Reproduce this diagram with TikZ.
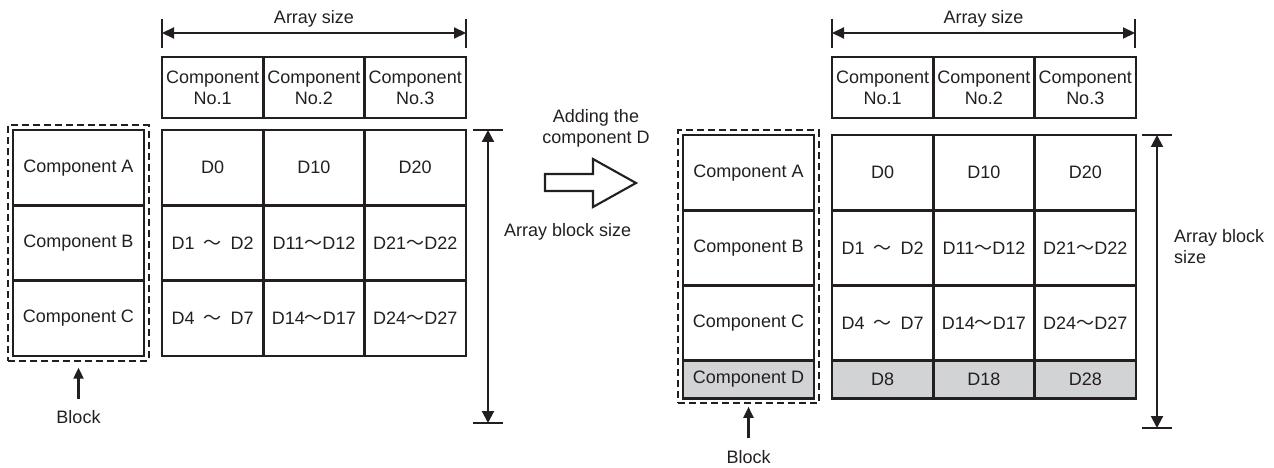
\documentclass[tikz,border=0pt]{standalone}
\usepackage{fontspec}
\setmainfont{Liberation Sans}
\newfontfamily\cjkfont{Noto Sans CJK JP}
\usepackage{tikz}
\usetikzlibrary{arrows.meta, positioning, fit}
\definecolor{inkblack}{HTML}{231F20}
\definecolor{addgray}{HTML}{D1D3D4}
\newcommand{\wavedash}{{\cjkfont ～}}

\begin{document}
\begin{tikzpicture}[x=1pt, y=-1pt,
    cell/.style={rectangle, draw=inkblack, line width=2.4pt, inner sep=0pt,
        minimum width=101.3pt, minimum height=75.3pt, align=center,
        font=\fontsize{18}{21}\selectfont, text=inkblack},
    hdr/.style={cell, minimum height=61pt},
    blk/.style={cell, minimum width=131pt},
    newrow/.style={fill=addgray, minimum height=38pt},
    grp/.style={draw=inkblack, line width=2.2pt, dash pattern=on 7pt off 4pt, inner sep=3.5pt},
    dimline/.style={draw=inkblack, line width=2.1pt},
    arr/.style={{Triangle[length=12pt, width=11pt]}-{Triangle[length=12pt, width=11pt]}, dimline},
    varr/.style={{Triangle[length=12pt, width=12pt]}-{Triangle[length=12pt, width=12pt]}, dimline},
    uparr/.style={-{Triangle[length=11pt, width=10pt]}, dimline},
    lbl/.style={font=\fontsize{18}{21}\selectfont, text=inkblack, inner sep=1pt, align=center}
]
    \useasboundingbox (0,0) rectangle (1274,468);

    % left: header row
    \foreach \n in {1,2,3}
        \node[hdr] (lh\n) at ({111.35+101.3*\n}, 87.5) {Component\\No.\n};
    % left: blocks and data
    \foreach \r/\a/\b/\c [count=\i] in {A/D0/D10/D20,
            B/D1\enspace\wavedash\enspace D2/D11\wavedash D12/D21\wavedash D22,
            C/D4\enspace\wavedash\enspace D7/D14\wavedash D17/D24\wavedash D27} {
        \node[blk] (lb\r) at (78.5, {92.35+75.3*\i}) {Component \r};
        \foreach \v [count=\j] in {\a,\b,\c}
            \node[cell] (l\r\j) at ({111.35+101.3*\j}, {92.35+75.3*\i}) {\v};
    }
    \node[grp, fit=(lbA)(lbC)] (lbox) {};

    % left: dimensions
    \coordinate (lhl) at (162,33);
    \coordinate (lhr) at (466,33);
    \foreach \p in {lhl, lhr}
        \draw[dimline] ([yshift=14pt]\p) -- ([yshift=-15pt]\p);
    \draw[arr] (lhl) -- (lhr) node[lbl, midway, above=4pt] {Array size};
    \coordinate (lvtop) at (488,130);
    \coordinate (lvbot) at (488,423);
    \foreach \p in {lvtop, lvbot}
        \draw[dimline] ([xshift=-15pt]\p) -- ([xshift=15pt]\p);
    \draw[varr] (lvtop) -- (lvbot);
    \node[lbl, anchor=west] (lvlbl) at (503,232) {Array block size};

    % left: block label
    \node[lbl] (lblock) at (78.5,417) {Block};
    \draw[uparr, shorten <=10pt, shorten >=6pt] (lblock.north) -- (lbox.south);

    % adding arrow
    \node[lbl] (addlbl) at (596,128) {Adding the\\component D};
    \draw[inkblack, line width=2.1pt, line join=miter]
        (545,174) -- (593,174) -- (593,159) -- (636,183) -- (593,207) -- (593,191) -- (545,191) -- cycle;

    % right: header row
    \foreach \n in {1,2,3}
        \node[hdr] (rh\n) at ({781.35+101.3*\n}, 87.5) {Component\\No.\n};
    % right: blocks and data
    \foreach \r/\a/\b/\c [count=\i] in {A/D0/D10/D20,
            B/D1\enspace\wavedash\enspace D2/D11\wavedash D12/D21\wavedash D22,
            C/D4\enspace\wavedash\enspace D7/D14\wavedash D17/D24\wavedash D27} {
        \node[blk] (rb\r) at (748.5, {97.35+75.3*\i}) {Component \r};
        \foreach \v [count=\j] in {\a,\b,\c}
            \node[cell] (r\r\j) at ({781.35+101.3*\j}, {97.35+75.3*\i}) {\v};
    }
    % right: added row
    \node[blk, newrow] (rbD) at (748.5, 379.5) {Component D};
    \foreach \v [count=\j] in {D8,D18,D28}
        \node[cell, newrow] (rD\j) at ({781.35+101.3*\j}, 379.5) {\v};
    \node[grp, fit=(rbA)(rbD)] (rbox) {};

    % right: dimensions
    \coordinate (rhl) at (832,33);
    \coordinate (rhr) at (1135,33);
    \foreach \p in {rhl, rhr}
        \draw[dimline] ([yshift=14pt]\p) -- ([yshift=-15pt]\p);
    \draw[arr] (rhl) -- (rhr) node[lbl, midway, above=4pt] {Array size};
    \coordinate (rvtop) at (1157,135);
    \coordinate (rvbot) at (1157,428);
    \foreach \p in {rvtop, rvbot}
        \draw[dimline] ([xshift=-15pt]\p) -- ([xshift=15pt]\p);
    \draw[varr] (rvtop) -- (rvbot);
    \node[lbl, anchor=west, align=left] (rvlbl) at (1173,247) {Array block\\size};

    % right: block label
    \node[lbl] (rblock) at (748.5,457) {Block};
    \draw[uparr, shorten <=11pt, shorten >=2.5pt] (rblock.north) -- (rbox.south);
\end{tikzpicture}
\end{document}
